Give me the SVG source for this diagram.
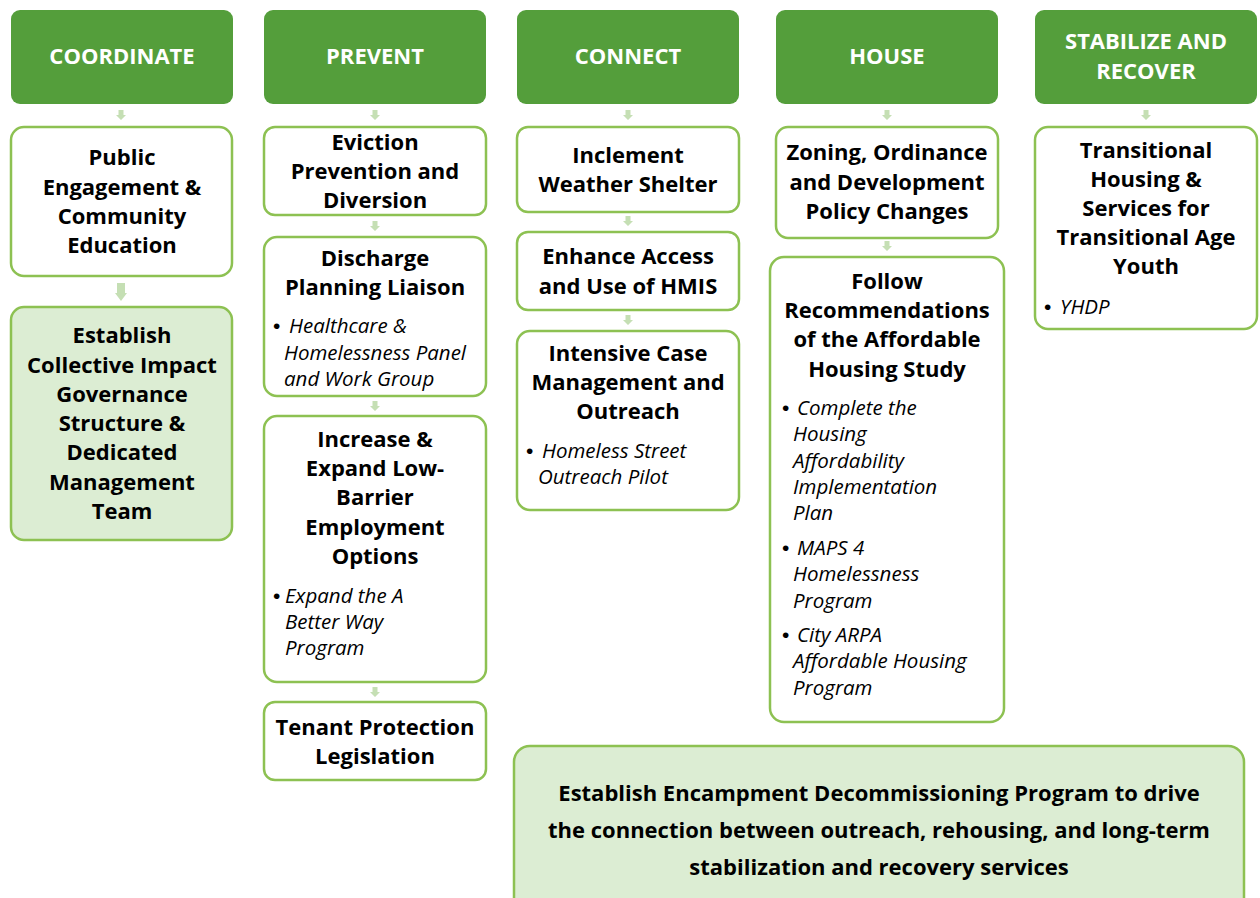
<svg xmlns="http://www.w3.org/2000/svg" xmlns:xlink="http://www.w3.org/1999/xlink" width="1260" height="898" viewBox="0 0 1260 898">
<style>
.hdr{fill:#549E3B;}
.box{fill:#FFFFFF;stroke:#8DC152;stroke-width:2.5;}
.gbox{fill:#DCEDD3;stroke:#8DC152;stroke-width:2.5;}
.ht{font-family:"Open Sans","Liberation Sans",sans-serif;font-weight:bold;font-size:22px;fill:#FFFFFF;text-anchor:middle;}
.t{font-family:"Open Sans","Liberation Sans",sans-serif;font-weight:bold;font-size:22px;fill:#000000;text-anchor:middle;}
.b{font-family:"Open Sans","Liberation Sans",sans-serif;font-style:italic;font-size:20.5px;fill:#000000;}
.d{font-family:"Liberation Sans",sans-serif;font-style:normal;font-size:21px;}
.arr{fill:#C5DFB4;}
</style>
<defs>
<path id="a" d="M-2.5,0 H2.5 V5 H5 L0,10 L-5,5 H-2.5 Z"/>
<path id="aL" d="M-4,0 H4 V10 H6 L0,18 L-6,10 H-4 Z"/>
</defs>
<g id="connectors" class="arr">
<use xlink:href="#a" x="121" y="110"/>
<use xlink:href="#aL" x="121" y="283"/>
<use xlink:href="#a" x="375" y="110"/>
<use xlink:href="#a" x="375" y="221"/>
<use xlink:href="#a" x="375" y="401"/>
<use xlink:href="#a" x="375" y="687"/>
<use xlink:href="#a" x="628" y="110"/>
<use xlink:href="#a" x="628" y="216"/>
<use xlink:href="#a" x="628" y="315"/>
<use xlink:href="#a" x="887" y="110"/>
<use xlink:href="#a" x="887" y="241"/>
<use xlink:href="#a" x="1146" y="110"/>
</g>
<g id="h-coordinate"><rect class="hdr" x="11" y="10" width="222" height="94" rx="9"/><text class="ht" x="122" y="64">COORDINATE</text></g>
<g id="h-prevent"><rect class="hdr" x="264" y="10" width="222" height="94" rx="9"/><text class="ht" x="375" y="64">PREVENT</text></g>
<g id="h-connect"><rect class="hdr" x="517" y="10" width="222" height="94" rx="9"/><text class="ht" x="628" y="64">CONNECT</text></g>
<g id="h-house"><rect class="hdr" x="776" y="10" width="222" height="94" rx="9"/><text class="ht" x="887" y="64">HOUSE</text></g>
<g id="h-stabilize"><rect class="hdr" x="1035" y="10" width="222" height="94" rx="9"/><text class="ht" x="1146" y="49">STABILIZE AND</text><text class="ht" x="1146" y="79">RECOVER</text></g>

<g id="n-public"><rect class="box" x="11" y="127" width="221" height="149" rx="13"/>
<text class="t" x="122" y="165">Public</text><text class="t" x="122" y="195">Engagement &amp;</text><text class="t" x="122" y="224">Community</text><text class="t" x="122" y="253">Education</text></g>
<g id="n-collective"><rect class="gbox" x="11" y="307" width="221" height="233" rx="13"/>
<text class="t" x="122" y="343">Establish</text><text class="t" x="122" y="373">Collective Impact</text><text class="t" x="122" y="402">Governance</text><text class="t" x="122" y="431">Structure &amp;</text><text class="t" x="122" y="460">Dedicated</text><text class="t" x="122" y="490">Management</text><text class="t" x="122" y="519">Team</text></g>

<g id="n-eviction"><rect class="box" x="264" y="127" width="222" height="88" rx="11"/>
<text class="t" x="375" y="150">Eviction</text><text class="t" x="375" y="179">Prevention and</text><text class="t" x="375" y="208">Diversion</text></g>
<g id="n-discharge"><rect class="box" x="264" y="237" width="222" height="159" rx="13"/>
<text class="t" x="375" y="266">Discharge</text><text class="t" x="375" y="295">Planning Liaison</text>
<text class="b" x="273" y="333"><tspan class="d">•</tspan><tspan x="289">Healthcare &amp;</tspan></text><text class="b" x="284" y="360">Homelessness Panel</text><text class="b" x="284" y="386">and Work Group</text></g>
<g id="n-increase"><rect class="box" x="264" y="416" width="222" height="266" rx="13"/>
<text class="t" x="375" y="447">Increase &amp;</text><text class="t" x="375" y="476">Expand Low-</text><text class="t" x="375" y="505">Barrier</text><text class="t" x="375" y="535">Employment</text><text class="t" x="375" y="564">Options</text>
<text class="b" x="273" y="603"><tspan class="d">•</tspan><tspan x="285">Expand the A</tspan></text><text class="b" x="285" y="629">Better Way</text><text class="b" x="285" y="655">Program</text></g>
<g id="n-tenant"><rect class="box" x="264" y="702" width="222" height="78" rx="11"/>
<text class="t" x="375" y="735">Tenant Protection</text><text class="t" x="375" y="764">Legislation</text></g>

<g id="n-inclement"><rect class="box" x="517" y="127" width="222" height="85" rx="11"/>
<text class="t" x="628" y="163">Inclement</text><text class="t" x="628" y="192">Weather Shelter</text></g>
<g id="n-hmis"><rect class="box" x="517" y="232" width="222" height="78" rx="11"/>
<text class="t" x="628" y="264">Enhance Access</text><text class="t" x="628" y="294">and Use of HMIS</text></g>
<g id="n-intensive"><rect class="box" x="517" y="331" width="222" height="179" rx="13"/>
<text class="t" x="628" y="361">Intensive Case</text><text class="t" x="628" y="390">Management and</text><text class="t" x="628" y="419">Outreach</text>
<text class="b" x="526" y="458"><tspan class="d">•</tspan><tspan x="542">Homeless Street</tspan></text><text class="b" x="538" y="484">Outreach Pilot</text></g>

<g id="n-zoning"><rect class="box" x="776" y="127" width="222" height="111" rx="12"/>
<text class="t" x="887" y="160">Zoning, Ordinance</text><text class="t" x="887" y="190">and Development</text><text class="t" x="887" y="219">Policy Changes</text></g>
<g id="n-follow"><rect class="box" x="770" y="257" width="234" height="465" rx="14"/>
<text class="t" x="887" y="289">Follow</text><text class="t" x="887" y="318">Recommendations</text><text class="t" x="887" y="347">of the Affordable</text><text class="t" x="887" y="377">Housing Study</text>
<text class="b" x="782" y="415"><tspan class="d">•</tspan><tspan x="797">Complete the</tspan></text><text class="b" x="793" y="441">Housing</text><text class="b" x="793" y="468">Affordability</text><text class="b" x="793" y="494">Implementation</text><text class="b" x="793" y="520">Plan</text>
<text class="b" x="782" y="555"><tspan class="d">•</tspan><tspan x="797">MAPS 4</tspan></text><text class="b" x="793" y="581">Homelessness</text><text class="b" x="793" y="608">Program</text>
<text class="b" x="782" y="642"><tspan class="d">•</tspan><tspan x="797">City ARPA</tspan></text><text class="b" x="793" y="668">Affordable Housing</text><text class="b" x="793" y="695">Program</text></g>

<g id="n-transitional"><rect class="box" x="1035" y="127" width="222" height="202" rx="13"/>
<text class="t" x="1146" y="158">Transitional</text><text class="t" x="1146" y="187">Housing &amp;</text><text class="t" x="1146" y="216">Services for</text><text class="t" x="1146" y="245">Transitional Age</text><text class="t" x="1146" y="274">Youth</text>
<text class="b" x="1044" y="314"><tspan class="d">•</tspan><tspan x="1060">YHDP</tspan></text></g>

<g id="n-encampment"><rect class="gbox" x="514" y="746" width="730" height="170" rx="16"/>
<text class="t" x="879" y="801">Establish Encampment Decommissioning Program to drive</text><text class="t" x="879" y="838">the connection between outreach, rehousing, and long-term</text><text class="t" x="879" y="875">stabilization and recovery services</text></g>
</svg>
